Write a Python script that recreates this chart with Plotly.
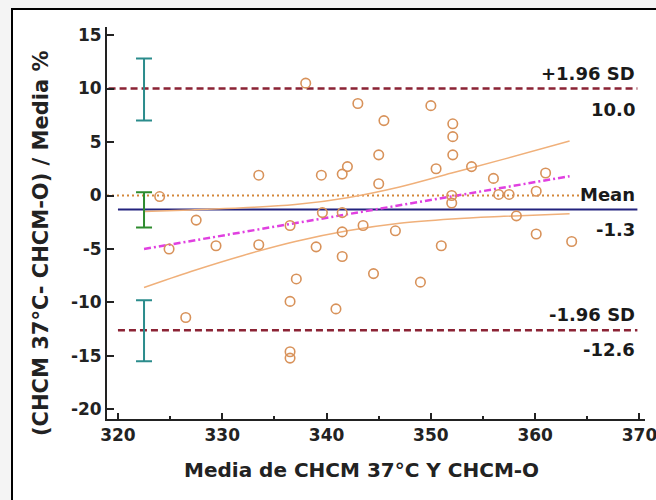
import plotly.graph_objects as go

# ---- data ----
mean_x = [324.0, 324.9, 326.5, 327.5, 329.4, 333.5, 333.5, 336.5, 336.5, 336.5,
          336.5, 337.1, 338.0, 339.0, 339.5, 339.6, 340.9, 341.5, 341.5, 341.5,
          341.5, 342.0, 343.0, 343.5, 344.5, 345.0, 345.0, 345.5, 346.6, 349.0,
          350.0, 350.5, 351.0, 352.0, 352.0, 352.1, 352.1, 352.1, 353.9, 356.0,
          356.5, 357.5, 358.2, 360.1, 360.1, 361.0, 363.5]
diff_pct = [-0.1, -5.0, -11.4, -2.3, -4.7, 1.9, -4.6, -2.8, -9.9, -14.6,
            -15.2, -7.8, 10.5, -4.8, 1.9, -1.6, -10.6, 2.0, -1.6, -3.4,
            -5.7, 2.7, 8.6, -2.8, -7.3, 3.8, 1.1, 7.0, -3.3, -8.1,
            8.4, 2.5, -4.7, 0.0, -0.7, 6.7, 5.5, 3.8, 2.7, 1.6,
            0.1, 0.1, -1.9, 0.4, -3.6, 2.1, -4.3]

mean_diff = -1.3
upper_loa = 10.0
lower_loa = -12.6
line_labels = ["+1.96 SD", "Mean", "-1.96 SD"]
value_labels = ["10.0", "-1.3", "-12.6"]

# confidence intervals (error bars) : centre, low, high
ci_center = [10.0, -1.3, -12.6]
ci_low = [7.0, -3.0, -15.5]
ci_high = [12.8, 0.3, -9.8]
ci_colors = ["#2b8c8c", "#2e8b2e", "#2b8c8c"]
ci_x = 322.5

# regression line and its confidence band
reg_x = [322.5, 363.3]
reg_y = [-5.0, 1.8]
band_x = [322.5, 327, 332, 337, 342, 347, 352, 357, 363.3]
band_upper = [-1.5, -1.35, -1.15, -0.85, -0.2, 0.8, 2.1, 3.4, 5.1]
band_lower = [-8.6, -7.1, -5.6, -4.3, -3.3, -2.6, -2.2, -1.95, -1.7]

x_ticks = [320, 330, 340, 350, 360, 370]
y_ticks = [-20, -15, -10, -5, 0, 5, 10, 15]

x_title = "Media de CHCM 37°C Y CHCM-O"
y_title = "(CHCM 37°C- CHCM-O) / Media %"

FONT = "DejaVu Sans"
INK = "#222222"
fig = go.Figure()

# zero line (dotted)
fig.add_trace(go.Scatter(x=[318.95, 364.5], y=[0, 0], mode="lines",
                         line=dict(color="#d4883a", width=2, dash="2px,3px"),
                         hoverinfo="skip"))
# limits of agreement
fig.add_trace(go.Scatter(x=[319.1, 369.8], y=[upper_loa, upper_loa], mode="lines",
                         line=dict(color="#8b2335", width=2.5, dash="7px,4px"),
                         hoverinfo="skip"))
fig.add_trace(go.Scatter(x=[320.0, 369.8], y=[lower_loa, lower_loa], mode="lines",
                         line=dict(color="#8b2335", width=2.5, dash="7px,4px"),
                         hoverinfo="skip"))
# mean line
fig.add_trace(go.Scatter(x=[320.0, 369.8], y=[mean_diff, mean_diff], mode="lines",
                         line=dict(color="#23237e", width=2),
                         hoverinfo="skip"))
# regression confidence band
fig.add_trace(go.Scatter(x=band_x, y=band_upper, mode="lines",
                         line=dict(color="#f0b07a", width=1.5, shape="spline"),
                         hoverinfo="skip"))
fig.add_trace(go.Scatter(x=band_x, y=band_lower, mode="lines",
                         line=dict(color="#f0b07a", width=1.5, shape="spline"),
                         hoverinfo="skip"))
# regression line
fig.add_trace(go.Scatter(x=reg_x, y=reg_y, mode="lines",
                         line=dict(color="#e040e0", width=2.5, dash="7px,3px,2px,3px"),
                         hoverinfo="skip"))
# points
fig.add_trace(go.Scatter(x=mean_x, y=diff_pct, mode="markers",
                         marker=dict(symbol="circle-open", size=9.5,
                                     color="#d8925a", line=dict(width=1.6))))
# CI error bars
for c, lo, hi, col in zip(ci_center, ci_low, ci_high, ci_colors):
    fig.add_trace(go.Scatter(
        x=[ci_x], y=[c], mode="markers", marker=dict(size=1, color="rgba(0,0,0,0)"),
        error_y=dict(type="data", symmetric=False, array=[hi - c], arrayminus=[c - lo],
                     color=col, thickness=2, width=8),
        hoverinfo="skip"))

# right-side labels
label_pos = [(11.42, 8.06), (0.05, -3.22), (-11.1, -14.44)]
for (ya, yb), t1, t2 in zip(label_pos, line_labels, value_labels):
    fig.add_annotation(x=369.8, y=ya, text="<b>" + t1 + "</b>", showarrow=False,
                       xanchor="right", yanchor="middle",
                       font=dict(family=FONT, size=18, color="#1a1a1a"))
    fig.add_annotation(x=369.8, y=yb, text="<b>" + t2 + "</b>", showarrow=False,
                       xanchor="right", yanchor="middle",
                       font=dict(family=FONT, size=18, color="#1a1a1a"))

# axis titles
fig.add_annotation(xref="paper", yref="paper", x=(361 - 107) / 538, y=(419 - 470) / 392,
                   text="<b>" + x_title + "</b>", showarrow=False,
                   xanchor="center", yanchor="middle",
                   font=dict(family=FONT, size=20, color=INK))
fig.add_annotation(xref="paper", yref="paper", x=(41 - 107) / 538, y=(419 - 243) / 392,
                   text="<b>" + y_title + "</b>", showarrow=False, textangle=-90,
                   xanchor="center", yanchor="middle",
                   font=dict(family=FONT, size=21, color=INK))

# outer frame
fig.add_shape(type="rect", xref="paper", yref="paper",
              x0=(12 - 107) / 538, x1=(700 - 107) / 538,
              y0=(419 - 560) / 392, y1=(419 - 9) / 392,
              line=dict(color="black", width=2), fillcolor="white", layer="below")

fig.update_layout(
    width=656, height=500,
    margin=dict(l=107, r=11, t=27, b=81, autoexpand=False),
    paper_bgcolor="#f4f4f4", plot_bgcolor="rgba(0,0,0,0)",
    showlegend=False,
    font=dict(family=FONT, color=INK),
)
fig.update_xaxes(
    range=[318.95, 370.53], tickmode="array", tickvals=x_ticks, automargin=False,
    ticktext=["<b>%d</b>" % v for v in x_ticks], ticklabeloverflow="allow",
    ticks="inside", ticklen=6, tickwidth=2, tickcolor=INK,
    minor=dict(ticks="inside", ticklen=3, tickwidth=1.5, tickcolor=INK,
               tickvals=[325, 335, 345, 355, 365]),
    showline=True, linecolor=INK, linewidth=2, showgrid=False, zeroline=False,
    tickfont=dict(family=FONT, size=17, color=INK),
)
fig.update_yaxes(
    range=[-20.89, 15.75], tickmode="array", tickvals=y_ticks, automargin=False,
    ticktext=["<b>%d</b>" % v for v in y_ticks],
    ticks="inside", ticklen=7, tickwidth=2, tickcolor=INK,
    showline=True, linecolor=INK, linewidth=2, showgrid=False, zeroline=False,
    tickfont=dict(family=FONT, size=17, color=INK),
)

fig.write_html("out.html")
